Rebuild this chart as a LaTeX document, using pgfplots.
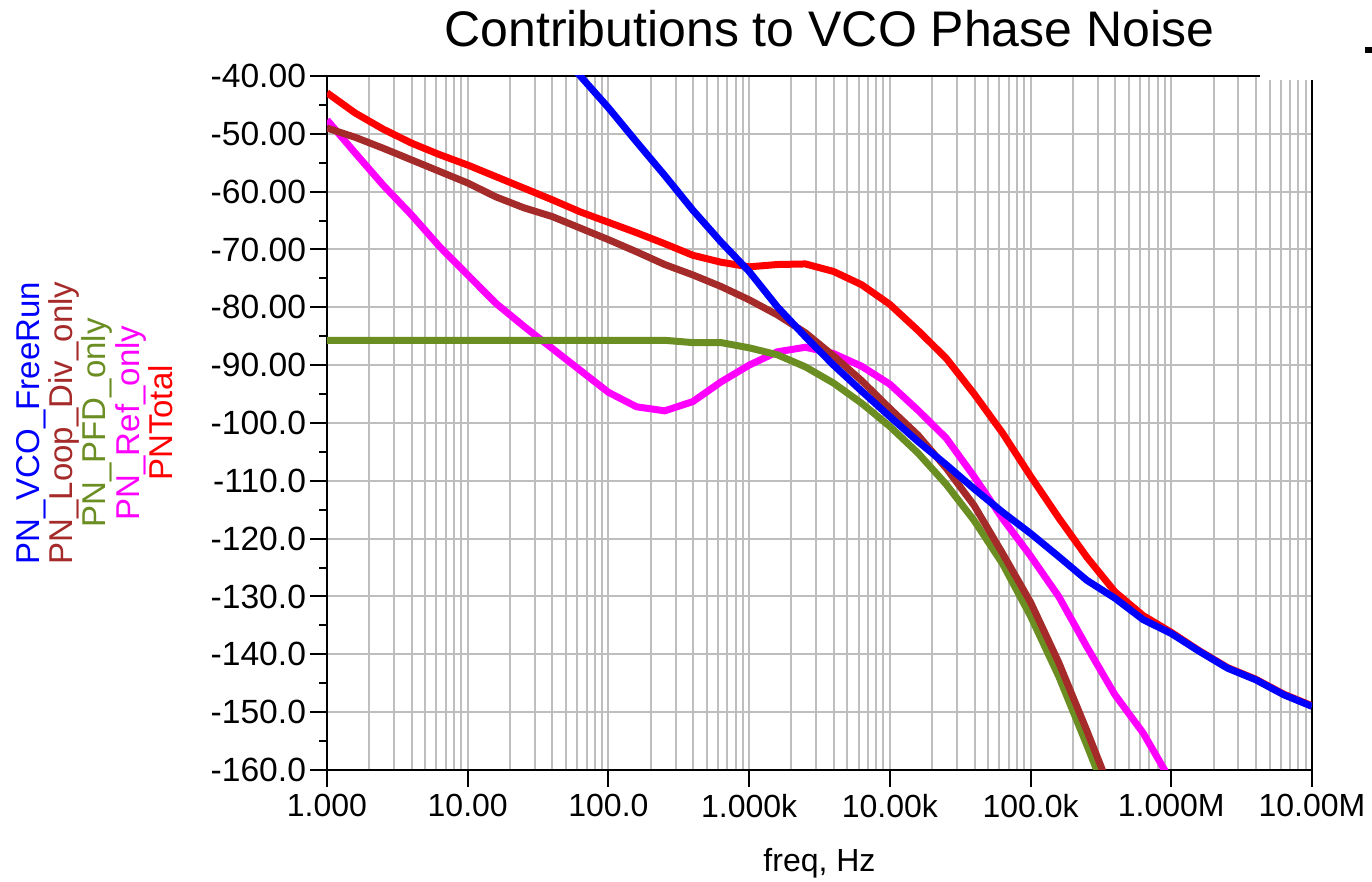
\documentclass[border=0pt]{standalone}
\usepackage{fontspec}
\setmainfont{Liberation Sans}
\usepackage{pgfplots}
\usepackage{pgfplotstable}
\pgfplotsset{compat=1.18}
\definecolor{cvco}{RGB}{0,0,255}
\definecolor{cdiv}{RGB}{165,42,42}
\definecolor{cpfd}{RGB}{107,142,35}
\definecolor{cref}{RGB}{255,0,255}
\definecolor{ctot}{RGB}{255,0,0}
\definecolor{cgrid}{RGB}{190,190,190}

\pgfplotstableread{
f v
39.81 -34.5
63.10 -40.0
100 -45.5
158.5 -51.4
251.2 -57.2
398.1 -63.2
631.0 -68.7
1000 -73.8
1585 -79.9
2512 -85.1
3981 -90.0
6310 -94.5
10000 -98.9
15850 -103.2
25120 -107.2
39810 -111.4
63100 -115.4
100000 -119.1
158500 -123.1
251200 -127.2
398100 -130.3
631000 -134.0
1000000 -136.4
1585000 -139.5
2512000 -142.4
3981000 -144.4
6310000 -147.0
10000000 -149.0
}\vco

\pgfplotstableread{
f v
1 -42.9
1.585 -46.4
2.512 -49.2
3.981 -51.6
6.310 -53.6
10 -55.4
15.85 -57.4
25.12 -59.4
39.81 -61.4
63.10 -63.5
100 -65.3
158.5 -67.1
251.2 -69.0
398.1 -71.0
631.0 -72.2
1000 -73.0
1585 -72.6
2512 -72.5
3981 -73.8
6310 -76.1
10000 -79.5
15850 -84.0
25120 -88.8
39810 -95.0
63100 -101.7
100000 -109.2
158500 -116.4
251200 -123.2
398100 -129.2
631000 -133.3
1000000 -136.2
1585000 -139.4
2512000 -142.3
3981000 -144.3
6310000 -146.9
10000000 -148.9
}\tot

\pgfplotstableread{
f v
1 -49.0
1.585 -50.6
2.512 -52.5
3.981 -54.5
6.310 -56.5
10 -58.5
15.85 -60.9
25.12 -62.8
39.81 -64.3
63.10 -66.3
100 -68.3
158.5 -70.4
251.2 -72.6
398.1 -74.4
631.0 -76.4
1000 -78.7
1585 -81.3
2512 -84.4
3981 -88.4
6310 -92.7
10000 -97.5
15850 -102.1
25120 -107.8
39810 -114.3
63100 -122.5
100000 -131.0
158500 -141.4
251200 -153.2
398100 -165.5
}\div

\pgfplotstableread{
f v
1 -85.7
1.585 -85.7
2.512 -85.7
3.981 -85.7
6.310 -85.7
10 -85.7
15.85 -85.7
25.12 -85.7
39.81 -85.7
63.10 -85.7
100 -85.7
158.5 -85.7
251.2 -85.7
398.1 -86.1
631.0 -86.1
1000 -87.0
1585 -88.2
2512 -90.3
3981 -93.1
6310 -96.6
10000 -100.6
15850 -105.2
25120 -110.6
39810 -116.9
63100 -124.3
100000 -133.4
158500 -143.8
251200 -155.7
398100 -168.0
}\pfd

\pgfplotstableread{
f v
1 -47.6
1.585 -53.3
2.512 -58.9
3.981 -64.0
6.310 -69.5
10 -74.4
15.85 -79.3
25.12 -83.3
39.81 -87.1
63.10 -90.9
100 -94.7
158.5 -97.2
251.2 -97.9
398.1 -96.3
631.0 -92.9
1000 -90.0
1585 -87.7
2512 -86.9
3981 -88.0
6310 -90.2
10000 -93.3
15850 -97.8
25120 -102.6
39810 -109.3
63100 -116.5
100000 -123.0
158500 -130.0
251200 -138.7
398100 -147.0
631000 -153.6
1000000 -162.0
}\refn

\begin{document}
\begin{tikzpicture}
\begin{axis}[
  name=ax,
  scale only axis,
  width=492.5pt, height=347pt,
  xmode=log, log basis x=10,
  xmin=1, xmax=1e7, ymin=-160, ymax=-40,
  xtick={1,10,100,1000,10000,100000,1000000,10000000},
  xticklabels={1.000,10.00,100.0,1.000k,10.00k,100.0k,1.000M,10.00M},
  minor xtick={2,3,4,5,6,7,8,9,20,30,40,50,60,70,80,90,200,300,400,500,600,700,800,900,2000,3000,4000,5000,6000,7000,8000,9000,20000,30000,40000,50000,60000,70000,80000,90000,200000,300000,400000,500000,600000,700000,800000,900000,2000000,3000000,4000000,5000000,6000000,7000000,8000000,9000000},
  ytick={-160,-150,...,-40},
  yticklabels={-160.0,-150.0,-140.0,-130.0,-120.0,-110.0,-100.0,-90.00,-80.00,-70.00,-60.00,-50.00,-40.00},
  minor ytick={-155,-145,...,-45},
  tick align=outside,
  xtick pos=bottom, ytick pos=left,
  major tick length=8.5pt, minor tick length=4pt,
  xmajorgrids, xminorgrids, ymajorgrids,
  major grid style={draw=cgrid, line width=1pt},
  minor grid style={draw=cgrid, line width=1pt},
  axis line style={line width=1pt, black},
  tick style={line width=1pt, black},
  minor x tick style={draw=none},
  xticklabel style={font=\fontsize{16}{18}\selectfont},
  yticklabel style={font=\fontsize{16.8}{18}\selectfont, xshift=1.5pt},
  every axis plot/.append style={line width=3.5pt},
]
\addplot[ctot, no markers] table[x=f, y=v] {\tot};
\addplot[cref, no markers] table[x=f, y=v] {\refn};
\addplot[cpfd, no markers] table[x=f, y=v] {\pfd};
\addplot[cdiv, no markers] table[x=f, y=v] {\div};
\addplot[cvco, no markers] table[x=f, y=v] {\vco};
\end{axis}
\fill[white] ([xshift=-26pt,yshift=-2pt]ax.north east) rectangle ([xshift=2pt,yshift=3pt]ax.north east);
\fill[black] ([xshift=26.5pt,yshift=11.5pt]ax.north east) rectangle ([xshift=30pt,yshift=14.5pt]ax.north east);
\node[anchor=base, font=\fontsize{25}{30}\selectfont] at ([xshift=5pt,yshift=14.5pt]ax.north) {Contributions to VCO Phase Noise};
\node[anchor=base, font=\fontsize{16}{18}\selectfont] at ([yshift=-51pt]ax.south) {freq, Hz};
\node[rotate=90, anchor=south, align=center, inner sep=0pt, font=\fontsize{16.5}{16.6}\selectfont] at ([xshift=-77pt]ax.west)
  {\textcolor{cvco}{PN\_VCO\_FreeRun}\\ \textcolor{cdiv}{PN\_Loop\_Div\_only}\\ \textcolor{cpfd}{PN\_PFD\_only}\\ \textcolor{cref}{PN\_Ref\_only}\\ \textcolor{ctot}{PNTotal}};
\pgfresetboundingbox
\path[use as bounding box] ([xshift=-163.5pt,yshift=-56pt]ax.south west) rectangle ([xshift=30pt,yshift=38pt]ax.north east);
\end{tikzpicture}
\end{document}
